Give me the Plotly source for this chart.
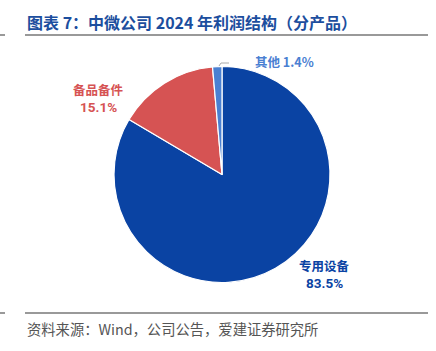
import plotly.graph_objects as go

categories = ["专用设备", "备品备件", "其他"]
shares = [83.5, 15.1, 1.4]
colors = ["#0A43A3", "#D65353", "#4A80D2"]
title_text = "图表 7：中微公司 2024 年利润结构（分产品）"
source_text = "资料来源：Wind，公司公告，爱建证券研究所"

W, H = 436, 351
cx, cy, r = 222, 174.5, 108

fig = go.Figure()
fig.add_trace(go.Pie(
    labels=categories, values=shares, sort=False, direction="clockwise", rotation=0,
    marker=dict(colors=colors, line=dict(color="white", width=1.2)),
    textinfo="none", hoverinfo="label+percent", showlegend=False,
    domain=dict(x=[(cx - r) / W, (cx + r) / W], y=[(H - cy - r) / H, (H - cy + r) / H]),
))

font = "Noto Sans CJK SC"
numfont = "Roboto"
# label positions (px): name line y, value line y (None -> single line)
label_pos = {
    "专用设备": (324, 265.5, 282.5),
    "备品备件": (98, 89.5, 106.5),
    "其他": (284, 62, None),
}
for c, v, col in zip(categories, shares, colors):
    x, y1, y2 = label_pos[c]
    if y2:
        lines = [(y1, c, font, 12.5), (y2, f"{v:.1f}%", numfont, 13.5)]
    else:
        lines = [(y1, f"{c} {v:.1f}%", font, 12.5)]
    for yy, t, f, s in lines:
        fig.add_annotation(x=x / W, y=1 - yy / H, xref="paper", yref="paper",
                           text="<b>" + t + "</b>", showarrow=False,
                           xanchor="center", yanchor="middle", borderpad=0,
                           font=dict(family=f, size=s, color=col))

# leader line for small slice
fig.add_shape(type="path", xref="paper", yref="paper",
              path=f"M {219/W} {1-66/H} L {221/W} {1-63/H} L {229/W} {1-63/H}",
              line=dict(color="#AAAAAA", width=1))

# title
fig.add_annotation(x=25 / W, y=1 - 22 / H, xref="paper", yref="paper", text="<b>" + title_text + "</b>",
                   showarrow=False, xanchor="left", yanchor="middle",
                   font=dict(family=font, size=16, color="#1C4E9E"))
fig.add_annotation(x=25 / W, y=1 - 328 / H, xref="paper", yref="paper", text=source_text,
                   showarrow=False, xanchor="left", yanchor="middle",
                   font=dict(family=font, size=14.3, color="#555555"))

for yy in (35, 313):
    fig.add_shape(type="line", xref="paper", yref="paper", x0=25 / W, x1=428 / W,
                  y0=1 - yy / H, y1=1 - yy / H, line=dict(color="#777777", width=1.5))
    fig.add_shape(type="line", xref="paper", yref="paper", x0=0, x1=5 / W,
                  y0=1 - yy / H, y1=1 - yy / H, line=dict(color="#777777", width=1.5))

fig.update_layout(width=W, height=H, margin=dict(l=0, r=0, t=0, b=0),
                  paper_bgcolor="white", plot_bgcolor="white")
fig.write_html("out.html")
